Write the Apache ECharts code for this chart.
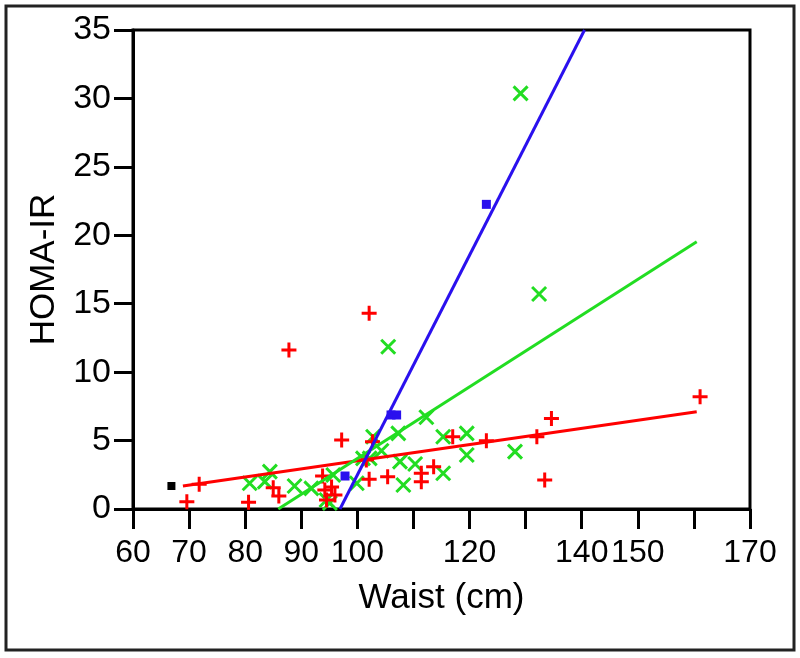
<!DOCTYPE html>
<html>
<head>
<meta charset="utf-8">
<style>
html,body{margin:0;padding:0;background:#fff;}
#chart{width:800px;height:658px;}
</style>
<script src="https://cdn.jsdelivr.net/npm/echarts@6/dist/echarts.min.js"></script>
</head>
<body>
<div id="chart"></div>
<script>
// x-axis tick labels shown (others hidden)
const xTickLabels = [60, 70, 80, 90, 100, 120, 140, 150, 170];
const yTicks = [0, 5, 10, 15, 20, 25, 30, 35];

// Red "+" points [waist, HOMA-IR]
const redPoints = [
  [69.6,0.53],[71.8,1.80],[80.6,0.49],[85.0,1.56],[86.0,0.95],[87.8,11.62],
  [93.8,2.41],[94.2,1.39],[95.4,1.61],[94.5,0.66],[96.0,1.02],[97.2,5.04],
  [101.6,3.58],[102.1,14.3],[102.1,2.17],[102.7,4.92],[105.4,2.36],
  [111.4,2.61],[111.4,2.0],[113.6,3.09],[117.0,5.28],[123.0,4.99],
  [132.0,5.28],[133.4,2.12],[134.6,6.62],[161.1,8.21]
];
// Green "x" points
const greenPoints = [
  [80.8,1.88],[83.5,2.0],[84.4,2.73],[88.8,1.68],[91.8,1.51],[94.5,0.66],
  [95.1,0.44],[95.7,2.48],[99.9,1.88],[101.0,3.70],[102.2,3.70],[102.8,5.28],
  [104.3,4.26],[105.5,11.86],[107.3,5.53],[107.6,3.46],[108.2,1.75],
  [110.3,3.29],[112.3,6.70],[115.3,5.28],[115.3,2.61],[119.5,5.53],
  [119.5,3.95],[128.1,4.19],[129.1,30.37],[132.4,15.71]
];
// Blue squares
const bluePoints = [[97.8,2.41],[106.0,6.87],[107.0,6.87],[123.0,22.26]];
// Black square
const blackPoints = [[66.85,1.68]];

// Regression lines (end points)
const redLine = [[68.9,1.68],[160.5,7.11]];
const greenLine = [[85.9,0],[160.5,19.53]];
const blueLine = [[96.9,0],[140.5,35]];

const FONT = "'Liberation Sans', Arial, Helvetica, sans-serif";
const RED = '#ff0000', GREEN = '#22dd22', BLUE = '#2a10ee';

const chart = echarts.init(document.getElementById('chart'));
chart.setOption({
  animation: false,
  backgroundColor: '#fff',
  textStyle: { fontFamily: FONT },
  graphic: [{
    type: 'rect',
    shape: { x: 6, y: 6, width: 788, height: 644 },
    style: { fill: 'none', stroke: '#222', lineWidth: 3 },
    z: 100
  }],
  grid: {
    left: 133, right: 50, top: 30, bottom: 149,
    show: true, borderColor: '#000', borderWidth: 3
  },
  xAxis: {
    type: 'value', min: 60, max: 170, interval: 10,
    name: 'Waist (cm)', nameLocation: 'middle', nameGap: 72,
    nameTextStyle: { fontSize: 35, color: '#000', fontFamily: FONT },
    axisLine: { lineStyle: { color: '#000', width: 3 } },
    axisTick: { show: true, inside: false, length: 20, lineStyle: { color: '#000', width: 3 } },
    axisLabel: {
      fontSize: 32, color: '#000', margin: 28, fontFamily: FONT,
      formatter: v => xTickLabels.includes(v) ? String(v) : ''
    },
    splitLine: { show: false }
  },
  yAxis: {
    type: 'value', min: 0, max: 35, interval: 5,
    name: 'HOMA-IR', nameLocation: 'middle', nameGap: 68,
    nameTextStyle: { fontSize: 35, color: '#000', fontFamily: FONT },
    axisLine: { lineStyle: { color: '#000', width: 3 } },
    axisTick: { show: true, inside: false, length: 19, lineStyle: { color: '#000', width: 3 } },
    axisLabel: {
      fontSize: 34, color: '#000', margin: 22, fontFamily: FONT,
      formatter: v => yTicks.includes(v) ? String(v) : ''
    },
    splitLine: { show: false }
  },
  series: [
    {
      type: 'scatter', data: greenPoints,
      symbol: 'path://M0,0L10,10M10,0L0,10', symbolSize: 14,
      itemStyle: { color: 'rgba(0,0,0,0)', borderColor: GREEN, borderWidth: 3, opacity: 1 }
    },
    {
      type: 'scatter', data: redPoints,
      symbol: 'path://M0,5L10,5M5,0L5,10', symbolSize: 15,
      itemStyle: { color: 'rgba(0,0,0,0)', borderColor: RED, borderWidth: 3, opacity: 1 }
    },
    {
      type: 'scatter', data: bluePoints,
      symbol: 'rect', symbolSize: 9,
      itemStyle: { color: BLUE, opacity: 1 }
    },
    {
      type: 'scatter', data: blackPoints,
      symbol: 'rect', symbolSize: 8,
      itemStyle: { color: '#000', opacity: 1 }
    },
    {
      type: 'line', data: redLine, showSymbol: false, symbol: 'none',
      lineStyle: { color: RED, width: 3 }
    },
    {
      type: 'line', data: greenLine, showSymbol: false, symbol: 'none',
      lineStyle: { color: GREEN, width: 3 }
    },
    {
      type: 'line', data: blueLine, showSymbol: false, symbol: 'none',
      lineStyle: { color: BLUE, width: 3 }
    }
  ]
});
</script>
</body>
</html>
